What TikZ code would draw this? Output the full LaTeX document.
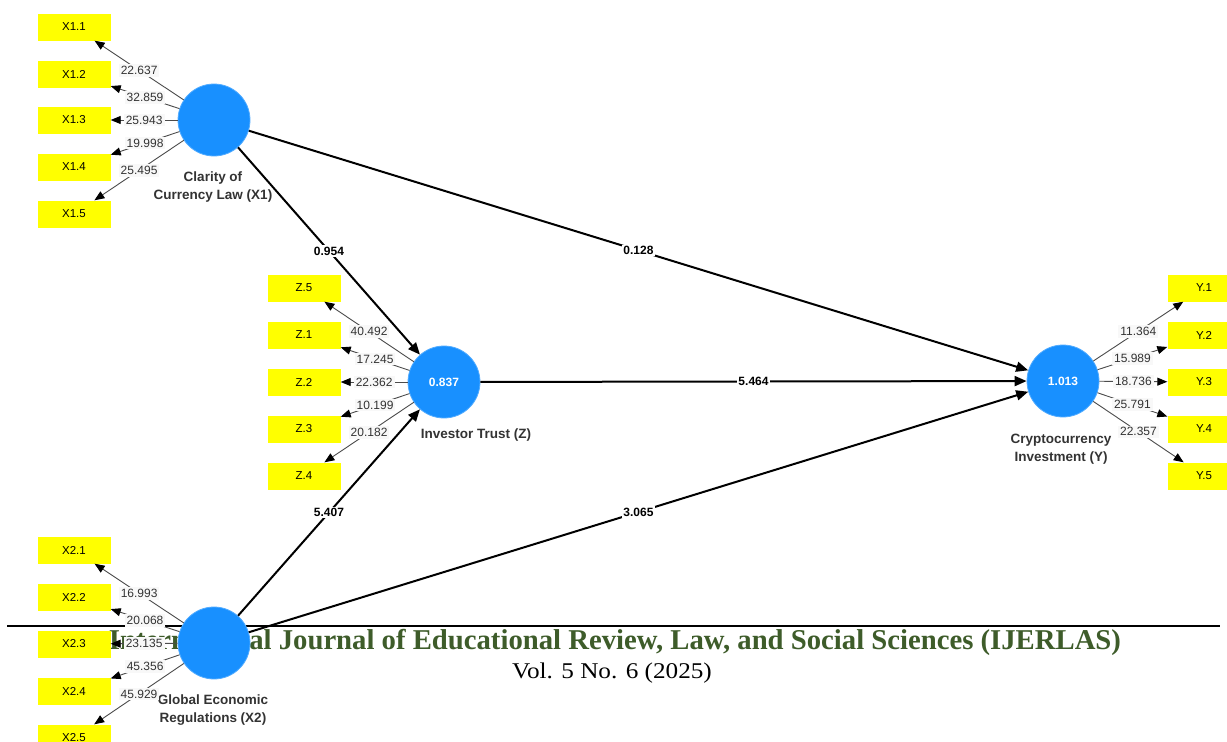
\documentclass[tikz,border=0pt]{standalone}
\usepackage{fontspec}
\setmainfont{Liberation Serif}
\setsansfont{Liberation Sans}
\usepackage{graphicx}
\usetikzlibrary{arrows.meta}

\definecolor{lvblue}{RGB}{24,144,255}
\definecolor{boxyellow}{RGB}{255,255,0}
\definecolor{jourgreen}{RGB}{62,92,42}
\definecolor{labgray}{RGB}{248,248,248}

\begin{document}
\begin{tikzpicture}[x=1pt, y=-1pt, font=\sffamily,
    latent/.style={circle, fill=lvblue, draw=lvblue!75!white, line width=0.8pt, minimum size=72pt, inner sep=0pt, text=white, font=\sffamily\bfseries\fontsize{12}{14}\selectfont},
    indbox/.style={rectangle, fill=boxyellow, minimum width=73pt, minimum height=27pt, inner sep=0pt, font=\sffamily\fontsize{11.5}{13}\selectfont},
    loadarr/.style={draw=black!70, line width=0.9pt, -{Triangle[length=10pt,width=8pt,color=black]}},
    patharr/.style={draw=black, line width=2pt, -{Triangle[length=12pt,width=10pt]}},
    loadlab/.style={fill=labgray, inner sep=2pt, text=black!80, font=\sffamily\fontsize{12}{14}\selectfont},
    pathlab/.style={fill=white, inner sep=1.5pt, font=\sffamily\bfseries\fontsize{12}{14}\selectfont},
    lvname/.style={align=center, text=black!80, font=\sffamily\bfseries\fontsize{13.5}{18}\selectfont}]
    \useasboundingbox[fill=white] (0,0) rectangle (1227,742);

    \coordinate (rulel) at (7,626);
    \coordinate (ruler) at (1220,626);
    \draw[line width=2pt] (rulel) -- (ruler);
    \node[text=jourgreen, inner sep=0pt] (jtitle) at (615,642) {\resizebox{1012pt}{!}{\rmfamily\bfseries International Journal of Educational Review, Law, and Social Sciences (IJERLAS)}};
    \node[inner sep=0pt] (jvol) at (612,673) {\scalebox{1.12}[1]{\rmfamily\fontsize{22.5}{24}\selectfont Vol. 5 No. 6 (2025)}};

    \node[latent] (X1) at (214,120) {};
    \node[latent] (Z) at (444,382) {0.837};
    \node[latent] (Y) at (1063,381) {1.013};
    \node[latent] (X2) at (214,643) {};

    \node[lvname] (x1name) at (213,187) {Clarity of\\Currency Law (X1)};
    \node[lvname] (zname) at (476,435) {Investor Trust (Z)};
    \node[lvname] (yname) at (1061,449) {Cryptocurrency\\Investment (Y)};
    \node[lvname] (x2name) at (213,710) {Global Economic\\Regulations (X2)};

    \foreach \i/\yy in {1/27, 2/74, 3/120, 4/167, 5/214} {
        \node[indbox] (x1-\i) at (74,\yy) {X1.\i};
    }
    \foreach \i/\yy in {5/288, 1/335, 2/382, 3/429, 4/476} {
        \node[indbox] (z-\i) at (304,\yy) {Z.\i};
    }
    \foreach \i/\yy in {1/288, 2/335, 3/382, 4/429, 5/476} {
        \node[indbox] (y-\i) at (1204,\yy) {Y.\i};
    }
    \foreach \i/\yy in {1/550, 2/597, 3/644, 4/691, 5/738} {
        \node[indbox] (x2-\i) at (74,\yy) {X2.\i};
    }

    \foreach \i/\v in {1/22.637, 2/32.859, 3/25.943, 4/19.998, 5/25.495} {
        \draw[loadarr] (X1) -- node[loadlab] {\v} (x1-\i);
    }
    \foreach \i/\v in {5/40.492, 1/17.245, 2/22.362, 3/10.199, 4/20.182} {
        \draw[loadarr] (Z) -- node[loadlab] {\v} (z-\i);
    }
    \foreach \i/\v in {1/11.364, 2/15.989, 3/18.736, 4/25.791, 5/22.357} {
        \draw[loadarr] (Y) -- node[loadlab] {\v} (y-\i);
    }
    \foreach \i/\v in {1/16.993, 2/20.068, 3/23.135, 4/45.356, 5/45.929} {
        \draw[loadarr] (X2) -- node[loadlab] {\v} (x2-\i);
    }

    \draw[patharr] (X1) -- node[pathlab] {0.954} (Z);
    \draw[patharr] (X1) -- node[pathlab] {0.128} (Y);
    \draw[patharr] (Z) -- node[pathlab] {5.464} (Y);
    \draw[patharr] (X2) -- node[pathlab] {5.407} (Z);
    \draw[patharr] (X2) -- node[pathlab] {3.065} (Y);
\end{tikzpicture}
\end{document}
